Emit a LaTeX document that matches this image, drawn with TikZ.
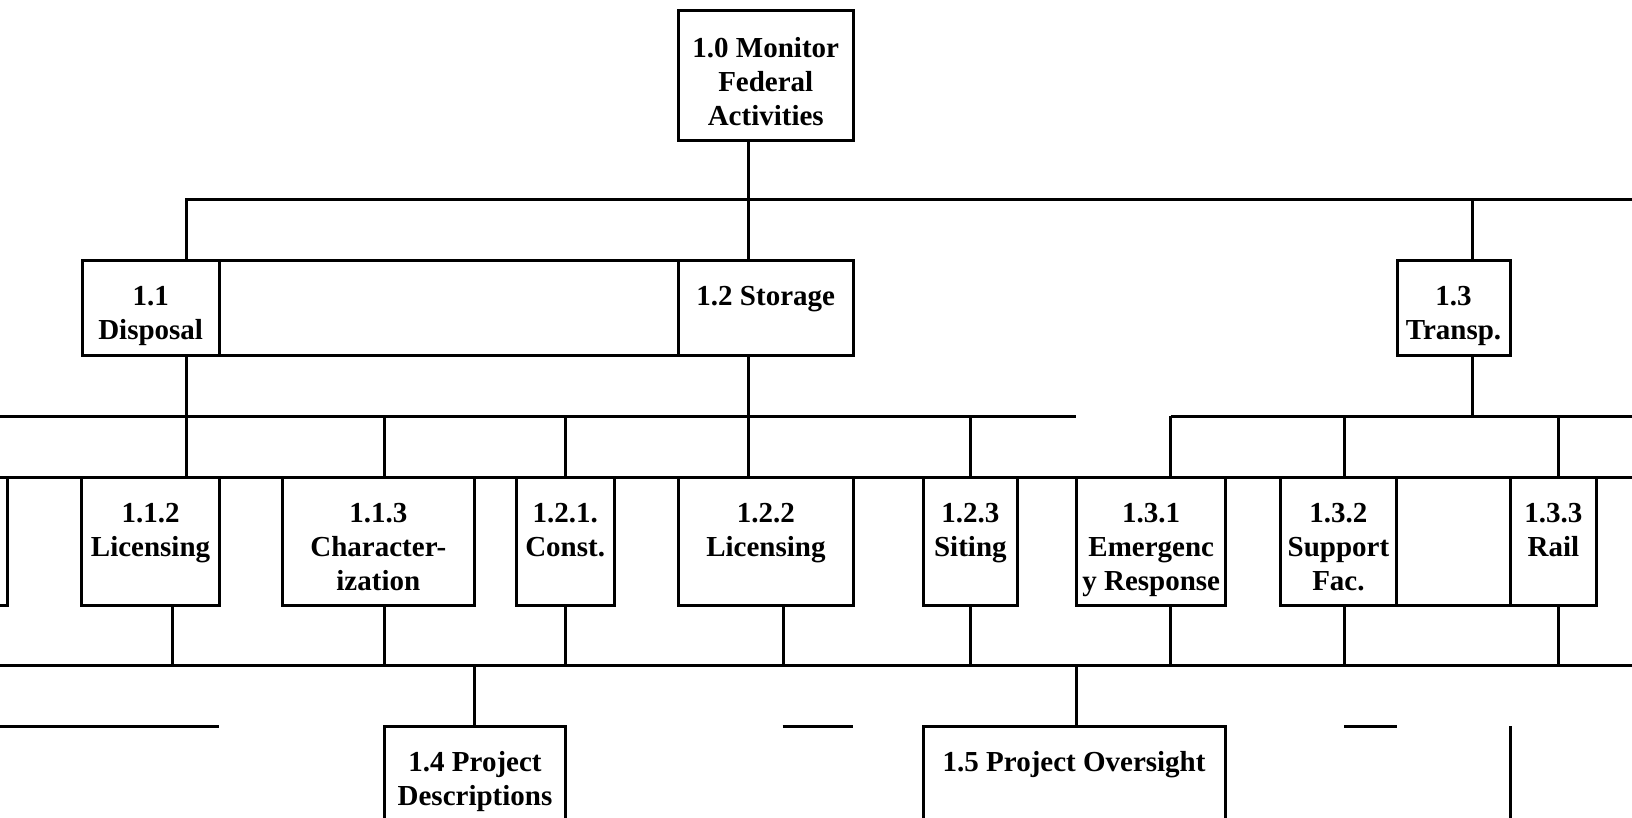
\documentclass[tikz,border=0pt]{standalone}
\usepackage{fontspec}
\setmainfont{Liberation Serif}
\usetikzlibrary{fit}
\tikzset{
  wbs/.style={draw, rectangle, line width=1.5pt, inner sep=0pt, outer sep=0pt},
  lbl/.style={anchor=north, inner sep=0pt, align=center,
              font=\bfseries\fontsize{14.5}{17}\selectfont},
  wire/.style={line width=1.5pt},
}
\begin{document}
\begin{tikzpicture}[x=0.5pt,y=-0.5pt]
\useasboundingbox (0,0) rectangle (1632,818);
\clip (0,0) rectangle (1632,818);

% ---------- boxes ----------
% level 0
\node[wbs, fit={(678,11) (853.5,141)}] (root) {};
% level 1
\node[wbs, fit={(82,261) (219.3,355.5)}] (n11) {};
\node[wbs, fit={(219.3,261) (678,355.5)}] (gapA) {};
\node[wbs, fit={(678,261) (853.5,355.5)}] (n12) {};
\node[wbs, fit={(1397,261) (1510,355.5)}] (n13) {};
% level 2
\node[wbs, fit={(-60,477) (7.3,605.5)}] (n111) {};
\node[wbs, fit={(81.8,477) (219.3,605.5)}] (n112) {};
\node[wbs, fit={(282,477) (474.6,605.5)}] (n113) {};
\node[wbs, fit={(516,477) (614.3,605.5)}] (n121) {};
\node[wbs, fit={(678.2,477) (853.6,605.5)}] (n122) {};
\node[wbs, fit={(923.2,477) (1017.5,605.5)}] (n123) {};
\node[wbs, fit={(1076.7,477) (1225.7,605.5)}] (n131) {};
\node[wbs, fit={(1280,477) (1396.8,605.5)}] (n132) {};
\node[wbs, fit={(1396.8,477) (1510,605.5)}] (gapB) {};
\node[wbs, fit={(1510,477) (1596.7,605.5)}] (n133) {};
% bottom row
\node[wbs, fit={(384.3,726) (565.7,860)}] (n14) {};
\node[wbs, fit={(923.2,726) (1225,860)}] (n15) {};

% ---------- labels ----------
\node[lbl] (troot) at ([yshift=-12.75pt]root.north) {1.0 Monitor\\Federal\\Activities};
\node[lbl] (t11) at ([yshift=-12.25pt]n11.north) {1.1\\Disposal};
\node[lbl] (t12) at ([yshift=-12.25pt]n12.north) {1.2 Storage};
\node[lbl] (t13) at ([yshift=-12.25pt]n13.north) {1.3\\Transp.};
\node[lbl] (t112) at ([yshift=-12.75pt]n112.north) {1.1.2\\Licensing};
\node[lbl] (t113) at ([yshift=-12.75pt]n113.north) {1.1.3\\Character-\\ization};
\node[lbl] (t121) at ([yshift=-12.75pt]n121.north) {1.2.1.\\Const.};
\node[lbl] (t122) at ([yshift=-12.75pt]n122.north) {1.2.2\\Licensing};
\node[lbl] (t123) at ([yshift=-12.75pt]n123.north) {1.2.3\\Siting};
\node[lbl] (t131) at ([yshift=-12.75pt]n131.north) {1.3.1\\Emergenc\\y Response};
\node[lbl] (t132) at ([yshift=-12.75pt]n132.north) {1.3.2\\Support\\Fac.};
\node[lbl] (t133) at ([yshift=-12.75pt]n133.north) {1.3.3\\Rail};
\node[lbl] (t14) at ([yshift=-12.5pt]n14.north) {1.4 Project\\Descriptions};
\node[lbl] (t15) at ([yshift=-12.5pt]n15.north) {1.5 Project Oversight};

% ---------- junction points ----------
\coordinate (j11) at (186.5,200);
\coordinate (j12) at (748.3,200);
\coordinate (j13) at (1472.5,200);
\coordinate (jR)  at (1632,200);

\coordinate (k2L) at (0,416);
\coordinate (k2M) at (1076,416);
\coordinate (k113) at (384,416);
\coordinate (k121) at (565.7,416);
\coordinate (k123) at (970.4,416);
\coordinate (k131) at (1170.5,416);
\coordinate (k132) at (1344,416);
\coordinate (k133) at (1558.5,416);
\coordinate (k2R) at (1632,416);

\coordinate (r3L) at (0,477);
\coordinate (r3R) at (1632,477);

\coordinate (m3L) at (0,665);
\coordinate (m3R) at (1632,665);
\coordinate (m112) at (172.5,665);
\coordinate (m113) at (384,665);
\coordinate (m121) at (565.7,665);
\coordinate (m122) at (783.6,665);
\coordinate (m123) at (970.4,665);
\coordinate (m131) at (1170.5,665);
\coordinate (m132) at (1344,665);
\coordinate (m133) at (1558.5,665);
\coordinate (m14) at (474.6,665);
\coordinate (m15) at (1076.4,665);

\coordinate (b1a) at (0,726);
\coordinate (b1b) at (218.6,726);
\coordinate (b2a) at (782.5,726);
\coordinate (b2b) at (852.9,726);
\coordinate (b3a) at (1344,726);
\coordinate (b3b) at (1397,726);
\coordinate (b4a) at (1510.5,726);
\coordinate (b4b) at (1510.5,830);

% ---------- connectors ----------
% top bus
\draw[wire] (n11.north -| j11) -- (j11) -- (jR);
\draw[wire] (root.south -| j12) -- (n12.north -| j12);
\draw[wire] (j13) -- (n13.north -| j13);

% second bus
\draw[wire] (k2L) -- (k2M);
\draw[wire] (k131) -- (k2R);
\draw[wire] (n11.south -| j11) -- (n112.north -| j11);
\draw[wire] (n12.south -| j12) -- (n122.north -| j12);
\draw[wire] (n13.south -| j13) -- (k2R -| j13);
\draw[wire] (k113) -- (n113.north -| k113);
\draw[wire] (k121) -- (n121.north -| k121);
\draw[wire] (k123) -- (n123.north -| k123);
\draw[wire] (k131) -- (n131.north -| k131);
\draw[wire] (k132) -- (n132.north -| k132);
\draw[wire] (k133) -- (n133.north -| k133);

% top edge of the third row
\draw[wire] (r3L) -- (r3R);

% third bus
\draw[wire] (m3L) -- (m3R);
\draw[wire] (n112.south -| m112) -- (m112);
\draw[wire] (n113.south -| m113) -- (m113);
\draw[wire] (n121.south -| m121) -- (m121);
\draw[wire] (n122.south -| m122) -- (m122);
\draw[wire] (n123.south -| m123) -- (m123);
\draw[wire] (n131.south -| m131) -- (m131);
\draw[wire] (n132.south -| m132) -- (m132);
\draw[wire] (n133.south -| m133) -- (m133);
\draw[wire] (m14) -- (n14.north -| m14);
\draw[wire] (m15) -- (n15.north -| m15);

% bottom row fragments
\draw[wire] (b1a) -- (b1b);
\draw[wire] (b2a) -- (b2b);
\draw[wire] (b3a) -- (b3b);
\draw[wire] (b4a) -- (b4b);
\end{tikzpicture}
\end{document}
